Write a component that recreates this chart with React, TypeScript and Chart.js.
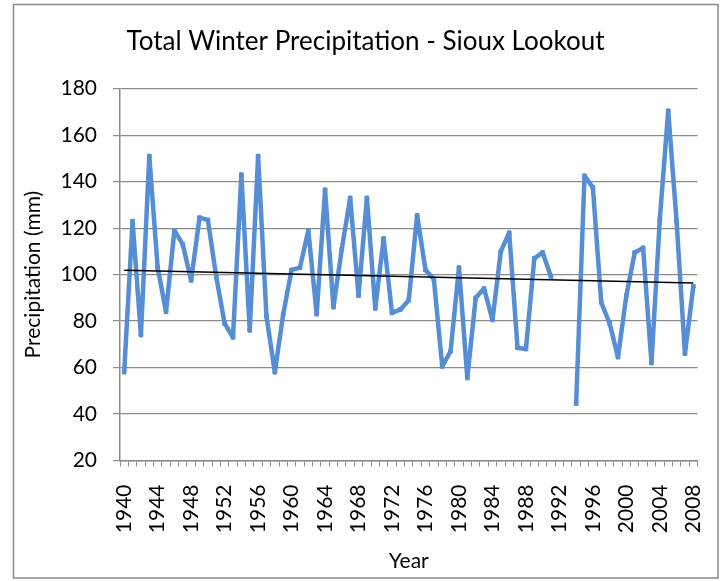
import React, { useEffect, useRef } from 'react';
import { Chart, registerables } from 'chart.js';

Chart.register(...registerables);

const years = [
  '1940', '1941', '1942', '1943', '1944', '1945', '1946', '1947', '1948', '1949',
  '1950', '1951', '1952', '1953', '1954', '1955', '1956', '1957', '1958', '1959',
  '1960', '1961', '1962', '1963', '1964', '1965', '1966', '1967', '1968', '1969',
  '1970', '1971', '1972', '1973', '1974', '1975', '1976', '1977', '1978', '1979',
  '1980', '1981', '1982', '1983', '1984', '1985', '1986', '1987', '1988', '1989',
  '1990', '1991', '1992', '1993', '1994', '1995', '1996', '1997', '1998', '1999',
  '2000', '2001', '2002', '2003', '2004', '2005', '2006', '2007', '2008',
];

const precipitation: (number | null)[] = [
  58, 123, 74, 151, 103, 84, 119, 113, 97.5, 124.5,
  123.5, 99, 79, 73, 143, 76, 151, 82, 58, 83,
  102, 103, 119, 83, 136.5, 86, 111, 133, 91, 133,
  85.5, 115.5, 83.5, 85, 89, 125.5, 102, 98, 60.5, 67,
  103, 55.5, 90, 94, 80.5, 110, 118, 68.5, 68, 107,
  109.5, 99, null, null, 44.5, 142.5, 137.5, 88, 79, 64.5,
  91, 109.5, 111.5, 62, 124, 170.5, 123, 66, 95,
];

const trendStart = 101.9;
const trendEnd = 96.4;

const yMin = 20;
const yMax = 180;
const yStep = 20;
const labelEvery = 4;

const FONT = 'Lato, "Open Sans", sans-serif';

export default function App() {
  const ref = useRef<HTMLCanvasElement>(null);

  useEffect(() => {
    if (!ref.current) return;
    const outerBorder = {
      id: 'outerBorder',
      beforeDraw(chart: any) {
        const ctx = chart.ctx;
        ctx.save();
        ctx.fillStyle = '#ffffff';
        ctx.fillRect(0, 0, chart.width, chart.height);
        ctx.strokeStyle = '#8a8a8a';
        ctx.lineWidth = 1.5;
        ctx.strokeRect(13.5, 4.5, 704.5, 573.5);
        ctx.restore();
      },
    };

    const chart = new Chart(ref.current, {
      type: 'line',
      data: {
        labels: years,
        datasets: [
          {
            label: 'Precipitation',
            data: precipitation,
            borderColor: '#558ED5',
            backgroundColor: '#558ED5',
            borderWidth: 4.5,
            borderJoinStyle: 'round',
            pointStyle: 'rect',
            pointRadius: 2.6,
            pointBorderWidth: 1,
            pointBorderColor: '#558ED5',
            spanGaps: false,
            tension: 0,
            order: 1,
          },
          {
            label: 'Trend',
            data: [
              { x: years[0], y: trendStart },
              { x: years[years.length - 1], y: trendEnd },
            ] as any,
            borderColor: '#000000',
            borderWidth: 1.5,
            pointRadius: 0,
            tension: 0,
            order: 0,
          },
        ],
      },
      plugins: [outerBorder],
      options: {
        responsive: false,
        animation: false,
        devicePixelRatio: 1,
        layout: { padding: { left: 8, right: 0, top: 0, bottom: 0 } },
        plugins: {
          legend: { display: false },
          tooltip: { enabled: false },
          title: {
            display: true,
            text: 'Total Winter Precipitation - Sioux Lookout',
            color: '#000000',
            font: { family: FONT, size: 26, weight: 'normal', lineHeight: 1.2 },
            padding: { top: 26, bottom: 31.5 },
          },
        },
        scales: {
          x: {
            type: 'category',
            offset: true,
            grid: {
              offset: true,
              drawOnChartArea: false,
              drawTicks: true,
              tickLength: 6,
              color: '#8c8c8c',
              lineWidth: 1,
            },
            border: { color: '#8c8c8c', width: 1.5 },
            ticks: {
              autoSkip: false,
              minRotation: 90,
              maxRotation: 90,
              padding: 18,
              color: '#000000',
              font: { family: FONT, size: 21 },
              callback: (_v: any, i: number) => (i % labelEvery === 0 ? years[i] : ''),
            },
            title: {
              display: true,
              text: 'Year',
              color: '#000000',
              font: { family: FONT, size: 21, lineHeight: 1.2 },
              padding: { top: 0, bottom: 7.4 },
            },
            afterFit: (s: any) => {
              s.height = 120.5;
              s.paddingLeft = 0;
              s.paddingRight = 0;
            },
          },
          y: {
            min: yMin,
            max: yMax,
            ticks: {
              stepSize: yStep,
              padding: 16,
              color: '#000000',
              font: { family: FONT, size: 21 },
            },
            grid: { color: '#8c8c8c', tickLength: 7, lineWidth: 1.2 },
            border: { color: '#8c8c8c', width: 1.5 },
            title: {
              display: true,
              text: 'Precipitation (mm)',
              color: '#000000',
              font: { family: FONT, size: 21, lineHeight: 1.2 },
              padding: { top: 12.4, bottom: 0 },
            },
            afterFit: (s: any) => {
              s.width = 112;
              s.paddingTop = 0;
              s.paddingBottom = 0;
            },
          },
          y2: {
            position: 'right',
            display: true,
            grid: { display: false },
            border: { display: false },
            ticks: { display: false },
            afterFit: (s: any) => {
              s.width = 25.5;
              s.paddingTop = 0;
              s.paddingBottom = 0;
            },
          },
        },
      },
    } as any);
    return () => chart.destroy();
  }, []);

  return (
    <div style={{ position: 'fixed', left: 0, top: 0, width: 723, height: 581, background: '#fff' }}>
      <canvas ref={ref} width={723} height={581} style={{ display: 'block' }} />
    </div>
  );
}
